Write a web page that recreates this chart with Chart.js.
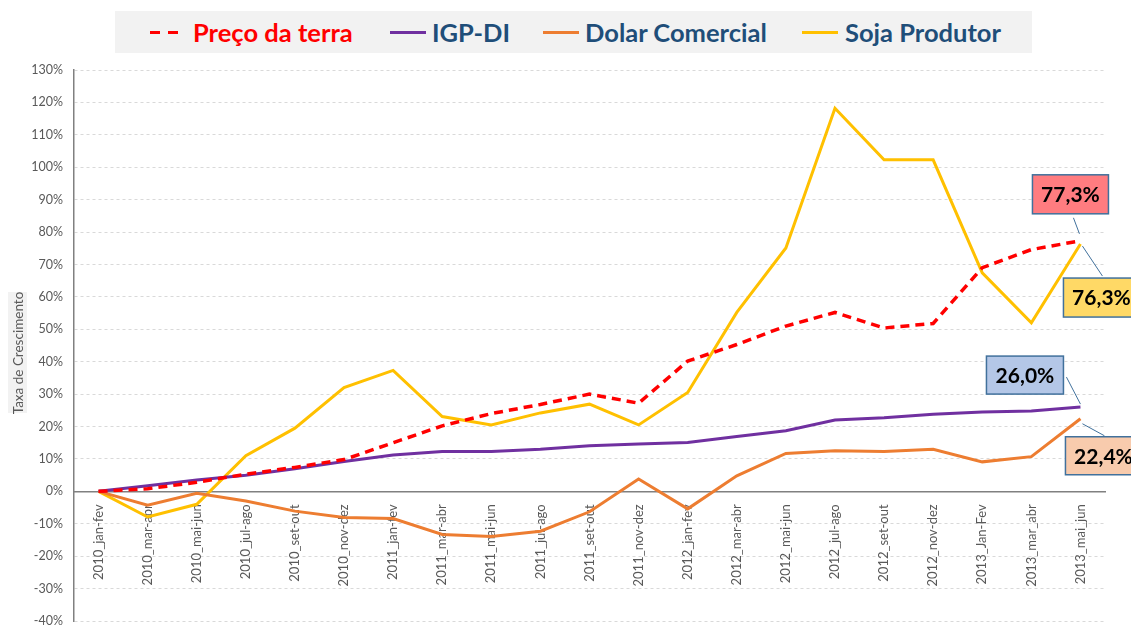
<!DOCTYPE html>
<html>
<head>
<meta charset="utf-8">
<script src="https://cdn.jsdelivr.net/npm/chart.js@4.4.1/dist/chart.umd.min.js"></script>
<style>
html,body{margin:0;padding:0;background:#fff;}
#wrap{position:relative;width:1131px;height:626px;overflow:hidden;font-family:Lato,"Open Sans",sans-serif;}
#chart{position:absolute;left:0;top:0;}
#legend{position:absolute;left:115px;top:11px;width:917px;height:42px;background:#f2f2f2;}
.item{position:absolute;top:0;height:42px;line-height:42px;font-weight:bold;font-size:25.5px;color:#1f4e79;white-space:nowrap;}
.swatch{position:absolute;top:20px;height:3px;}
#ytitle{position:absolute;left:8px;top:292px;width:19px;height:121px;background:#f2f2f2;}
#ytitle span{position:absolute;left:50%;top:50%;transform:translate(-50%,-50%) rotate(-90deg);white-space:nowrap;font-size:13.5px;color:#595959;}
</style>
</head>
<body>
<div id="wrap">
<canvas id="chart" width="1131" height="626"></canvas>
<div id="legend">
<div class="swatch" style="left:35px;width:10px;background:#ff0000"></div>
<div class="swatch" style="left:53px;width:10px;background:#ff0000"></div>
<div class="item" style="left:78px;color:#ff0000">Preço da terra</div>
<div class="swatch" style="left:275px;width:36px;background:#7030a0"></div>
<div class="item" style="left:317px">IGP-DI</div>
<div class="swatch" style="left:428px;width:36px;background:#ed7d31"></div>
<div class="item" style="left:470px">Dolar Comercial</div>
<div class="swatch" style="left:687px;width:36px;background:#ffc000"></div>
<div class="item" style="left:730px">Soja Produtor</div>
</div>
<div id="ytitle"><span>Taxa de Crescimento</span></div>
</div>
<script>
const labels = ["2010_jan-fev","2010_mar-abr","2010_mai-jun","2010_jul-ago","2010_set-out","2010_nov-dez",
"2011_jan-fev","2011_mar-abr","2011_mai-jun","2011_jul-ago","2011_set-out","2011_nov-dez",
"2012_jan-fev","2012_mar-abr","2012_mai-jun","2012_jul-ago","2012_set-out","2012_nov-dez",
"2013_Jan-Fev","2013_mar_abr","2013_mai_jun"];

const precoTerra = [0,0.8,2.8,5.3,7.4,9.8,15,20.2,24,26.8,30,27.2,40.2,45.3,51,55.2,50.4,51.8,69,74.6,77.3];
const igpDi = [0,1.7,3.5,5,7,9.2,11.2,12.3,12.3,13,14.1,14.6,15.1,16.9,18.7,22,22.7,23.8,24.5,24.8,26.0];
const dolarComercial = [0,-4.3,-0.6,-3,-6.1,-8.1,-8.4,-13.3,-13.9,-12.3,-6.3,3.8,-5.4,4.8,11.7,12.5,12.3,13,9.1,10.7,22.4];
const sojaProdutor = [0,-7.9,-4,11,19.5,32,37.3,23.1,20.5,24.2,26.9,20.5,30.5,55.2,75.1,118.2,102.3,102.3,67.4,52,76.3];

const yTicks = {min:-40,max:130,step:10};

// caixas com o ultimo valor de cada serie
const callouts = [
{ds:0,text:"77,3%",fill:"#ff7c80",box:[-48,-66,76,39],lead:[-7,-23,-1,-7]},
{ds:3,text:"76,3%",fill:"#ffd966",box:[-17,34,76,39],lead:[2,2,22,32]},
{ds:1,text:"26,0%",fill:"#b4c7e7",box:[-94,-51,77,38],lead:[-14,-30,0,-3]},
{ds:2,text:"22,4%",fill:"#f8cbad",box:[-15,18,76,38],lead:[2,5,24,17]}
];

const calloutPlugin = {
id:"callouts",
afterDatasetsDraw(chart){
const ctx = chart.ctx;
ctx.save();
callouts.forEach(c=>{
const meta = chart.getDatasetMeta(c.ds);
const pt = meta.data[meta.data.length-1];
const px = pt.x, py = pt.y;
ctx.strokeStyle = "#41719c";
ctx.lineWidth = 1;
ctx.beginPath();
ctx.moveTo(px+c.lead[0],py+c.lead[1]);
ctx.lineTo(px+c.lead[2],py+c.lead[3]);
ctx.stroke();
const bx = px+c.box[0], by = py+c.box[1];
ctx.fillStyle = c.fill;
ctx.fillRect(bx,by,c.box[2],c.box[3]);
ctx.lineWidth = 1.5;
ctx.strokeRect(bx,by,c.box[2],c.box[3]);
ctx.fillStyle = "#000";
ctx.font = "bold 21px Lato";
ctx.textAlign = "center";
ctx.textBaseline = "middle";
ctx.fillText(c.text,bx+c.box[2]/2,by+c.box[3]/2+1);
});
ctx.restore();
}
};

function noPad(scale){
scale.paddingTop = 0;
scale.paddingBottom = 0;
scale.paddingLeft = 0;
scale.paddingRight = 0;
}

new Chart(document.getElementById("chart"),{
type:"line",
data:{
labels:labels,
datasets:[
{label:"Preço da terra",data:precoTerra,borderColor:"#ff0000",borderWidth:3.5,borderDash:[9,6]},
{label:"IGP-DI",data:igpDi,borderColor:"#7030a0",borderWidth:3},
{label:"Dolar Comercial",data:dolarComercial,borderColor:"#ed7d31",borderWidth:3},
{label:"Soja Produtor",data:sojaProdutor,borderColor:"#ffc000",borderWidth:3}
]
},
options:{
responsive:false,
animation:false,
layout:{padding:{top:70,right:26,bottom:5,left:0}},
elements:{point:{radius:0},line:{tension:0,borderCapStyle:"butt"}},
plugins:{legend:{display:false},tooltip:{enabled:false}},
scales:{
x:{
position:{y:0},
offset:true,
afterFit:noPad,
grid:{display:false},
border:{display:true,color:"#808080",width:1.5},
ticks:{autoSkip:false,minRotation:90,maxRotation:90,padding:5,color:"#595959",font:{family:"Lato",size:13}}
},
y:{
min:yTicks.min,max:yTicks.max,
afterFit(scale){scale.width=74;noPad(scale);},
grid:{color:"#d9d9d9",drawTicks:false},
border:{display:true,color:"#808080",width:1.5,dash:[3,3]},
ticks:{stepSize:yTicks.step,padding:11,color:"#595959",font:{family:"Lato",size:12.5},callback:v=>v+"%"}
}
}
},
plugins:[calloutPlugin]
});
</script>
</body>
</html>
